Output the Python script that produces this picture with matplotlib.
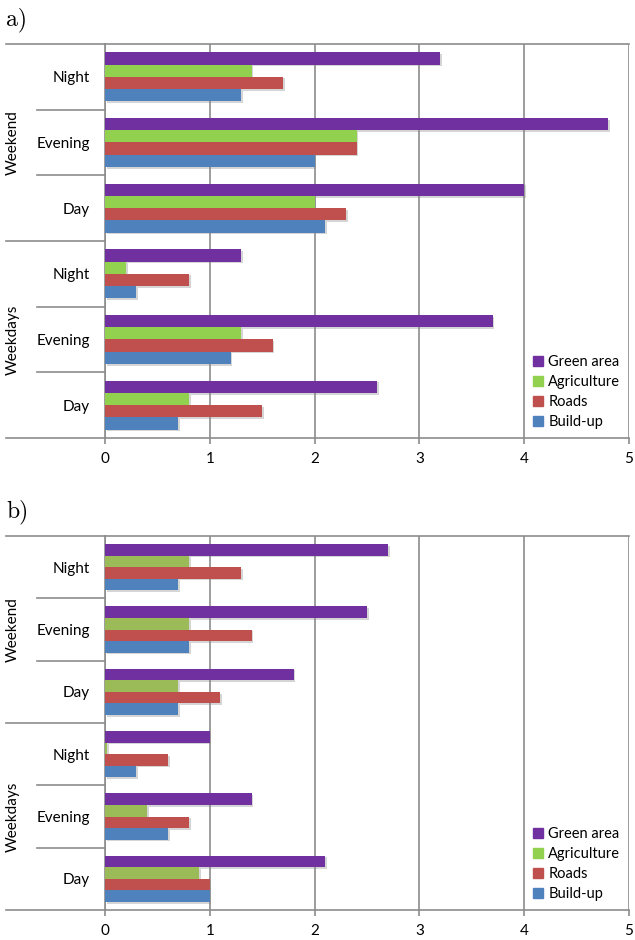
import matplotlib
matplotlib.use("Agg")
import matplotlib.pyplot as plt
import matplotlib.patheffects as pe
from matplotlib.lines import Line2D
from matplotlib.patches import Patch
import numpy as np

plt.rcParams['font.family'] = ['Lato', 'DejaVu Sans']

# categories, bottom to top
periods = ["Day", "Evening", "Night", "Day", "Evening", "Night"]
groups = ["Weekdays", "Weekend"]
series = ["Green area", "Agriculture", "Roads", "Build-up"]

# panel a)
a_green_area = [2.6, 3.7, 1.3, 4.0, 4.8, 3.2]
a_agriculture = [0.8, 1.3, 0.2, 2.0, 2.4, 1.4]
a_roads = [1.5, 1.6, 0.8, 2.3, 2.4, 1.7]
a_buildup = [0.7, 1.2, 0.3, 2.1, 2.0, 1.3]

# panel b)
b_green_area = [2.1, 1.4, 1.0, 1.8, 2.5, 2.7]
b_agriculture = [0.9, 0.4, 0.02, 0.7, 0.8, 0.8]
b_roads = [1.0, 0.8, 0.6, 1.1, 1.4, 1.3]
b_buildup = [1.0, 0.6, 0.3, 0.7, 0.8, 0.7]

purple = "#7030A0"
red = "#C0504D"
blue = "#4F81BD"
green_a = "#92D050"
green_b = "#9BBB59"
gray = "#8c8c8c"


def draw_panel(ax, values, colors, label):
    y = np.arange(len(periods))
    h = 0.186
    offsets = [1.5 * h, 0.5 * h, -0.5 * h, -1.5 * h]
    shadow = [pe.SimplePatchShadow(offset=(1.2, -1.2), shadow_rgbFace="#888888", alpha=0.35), pe.Normal()]
    for vals, col, off in zip(values, colors, offsets):
        bars = ax.barh(y + off, vals, height=h, color=col, edgecolor="none", zorder=3)
        for b in bars:
            b.set_path_effects(shadow)

    ax.set_xlim(0, 5)
    ax.set_ylim(-0.5, len(periods) - 0.5)
    ax.set_xticks(range(6))
    ax.set_yticks(y)
    ax.set_yticklabels(periods, fontsize=11)
    ax.tick_params(axis="y", length=0, pad=11)
    ax.tick_params(axis="x", length=4, color=gray, width=1.2, labelsize=11, pad=6)
    ax.grid(True, axis="x", color=gray, linewidth=1.2, zorder=0)

    for s in ["top", "bottom", "left", "right"]:
        ax.spines[s].set_color(gray)
        ax.spines[s].set_linewidth(1.2)
    ax.spines["right"].set_visible(False)

    # frame lines extending into the label area
    trans = ax.get_yaxis_transform()
    for yy in [-0.5, len(periods) - 0.5, 2.5]:
        ax.add_line(Line2D([-0.189, 0], [yy, yy], transform=trans, color=gray,
                           linewidth=1.2, clip_on=False))
    for yy in [0.5, 1.5, 3.5, 4.5]:
        ax.add_line(Line2D([-0.13, 0], [yy, yy], transform=trans, color=gray,
                           linewidth=1.2, clip_on=False))

    ax.text(-0.176, 4, groups[1], transform=trans, rotation=90, ha="center",
            va="center", fontsize=11)
    ax.text(-0.176, 1, groups[0], transform=trans, rotation=90, ha="center",
            va="center", fontsize=11)

    handles = [Patch(color=c) for c in colors[:1]] + [Patch(color=green_a)] + \
              [Patch(color=c) for c in colors[2:]]
    ax.legend(handles, series, loc="lower right", bbox_to_anchor=(1.0, 0.0),
              frameon=False, fontsize=10.5, handlelength=0.7, handleheight=0.7,
              handletextpad=0.35, labelspacing=0.42, borderaxespad=0.2)

    ax.figure.text(6 / 635, ax.get_position().y1 + 24 / 940, label,
                   fontfamily="cmr10", fontsize=17, ha="left", va="center")


fig = plt.figure(figsize=(6.35, 9.40), dpi=100)
ax_a = fig.add_axes([105 / 635, 1 - 438 / 940, 524 / 635, 394 / 940])
ax_b = fig.add_axes([105 / 635, 1 - 910 / 940, 524 / 635, 374 / 940])

draw_panel(ax_a, [a_green_area, a_agriculture, a_roads, a_buildup],
           [purple, green_a, red, blue], "a)")
draw_panel(ax_b, [b_green_area, b_agriculture, b_roads, b_buildup],
           [purple, green_b, red, blue], "b)")

fig.savefig("out.png", dpi=100)
